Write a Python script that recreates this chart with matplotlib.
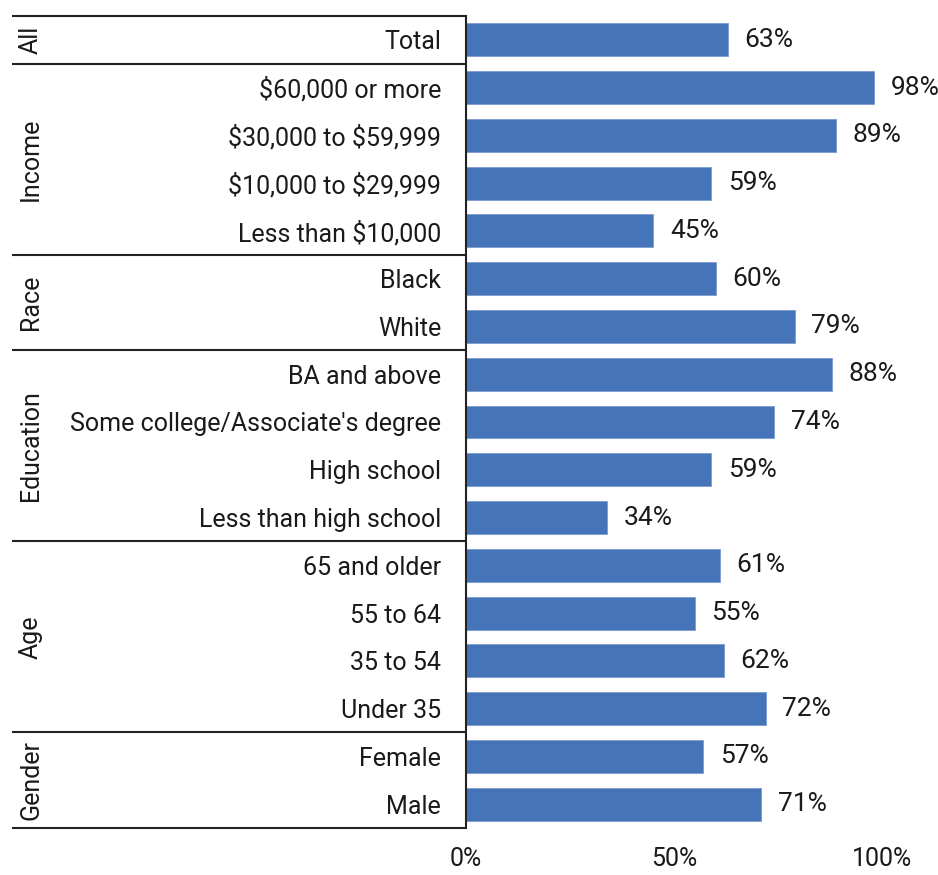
import matplotlib
matplotlib.use("Agg")
import matplotlib.pyplot as plt
from matplotlib import transforms
from matplotlib.ticker import FuncFormatter

plt.rcParams['font.family'] = ['Roboto', 'DejaVu Sans']
plt.rcParams['text.parse_math'] = False

categories = ["Total",
              "$60,000 or more", "$30,000 to $59,999", "$10,000 to $29,999", "Less than $10,000",
              "Black", "White",
              "BA and above", "Some college/Associate's degree", "High school", "Less than high school",
              "65 and older", "55 to 64", "35 to 54", "Under 35",
              "Female", "Male"]
values = [63, 98, 89, 59, 45, 60, 79, 88, 74, 59, 34, 61, 55, 62, 72, 57, 71]
groups = ["All", "Income", "Race", "Education", "Age", "Gender"]
group_sizes = [1, 4, 2, 4, 4, 2]
xticks = [0, 50, 100]

W, H = 938, 875
fig = plt.figure(figsize=(W / 100, H / 100), dpi=100)
# axes placed in pixel terms: left 466, top 16, bottom 828
ax = fig.add_axes([466 / W, 1 - 828 / H, (W - 466) / W, (828 - 16) / H])

n = len(categories)
ypos = list(range(n))
ax.barh(ypos, values, height=0.69, color='#4674b8', edgecolor='#7a9bd0', linewidth=0.6)
for y, v in zip(ypos, values):
    ax.annotate(f"{v}%", (v, y), xytext=(12, 0), textcoords='offset points',
                va='center', ha='left', fontsize=19, color='#1a1a1a')

ax.set_xlim(0, (W - 466) / 4.16)
ax.set_ylim(n - 0.5, -0.5)
ax.set_yticks(ypos)
ax.set_yticklabels(categories, fontsize=18, color='#1a1a1a')
ax.set_xticks(xticks)
ax.xaxis.set_major_formatter(FuncFormatter(lambda x, p: f"{x:.0f}%"))
ax.tick_params(axis='x', length=0, pad=14, labelsize=18, labelcolor='#1a1a1a')
ax.tick_params(axis='y', length=0, pad=18)
for s in ['top', 'right', 'bottom']:
    ax.spines[s].set_visible(False)
ax.spines['left'].set_color('#222222')
ax.spines['left'].set_linewidth(1.5)

# group separators and rotated group labels
trans = transforms.blended_transform_factory(fig.transFigure, ax.transData)
start = -0.5
bounds = [start]
for g, size in zip(groups, group_sizes):
    end = start + size
    bounds.append(end)
    fig.text(31 / W, (start + end) / 2, g, transform=trans, rotation=90,
             ha='center', va='center', fontsize=18, color='#1a1a1a')
    start = end
for b in bounds:
    ax.plot([12 / W, 466 / W], [b, b], transform=trans, color='#222222',
            lw=1.5, clip_on=False, solid_capstyle='butt')

fig.savefig("out.png", dpi=100)
